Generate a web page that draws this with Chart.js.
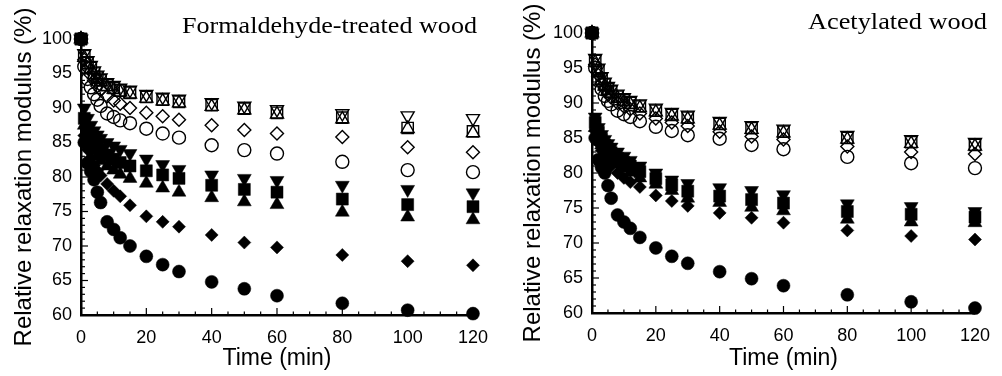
<!DOCTYPE html>
<html><head><meta charset="utf-8">
<script src="https://cdn.jsdelivr.net/npm/chart.js@4.4.0/dist/chart.umd.min.js"></script>
<style>
html,body{margin:0;padding:0;background:#fff;width:1002px;height:376px;overflow:hidden}
#c1{position:absolute;left:0;top:0}
#c2{position:absolute;left:500px;top:0}
</style></head>
<body>
<canvas id="c1" width="500" height="376"></canvas>
<canvas id="c2" width="502" height="376"></canvas>
<script>
// ---- data ----
const timesMin = [0, 1, 2, 3, 4, 5, 6, 8, 10, 12, 15, 20, 25, 30, 40, 50, 60, 80, 100, 120];
const xTicks = [0, 20, 40, 60, 80, 100, 120];
const yTicks = [60, 65, 70, 75, 80, 85, 90, 95, 100];
const panelTitles = ['Formaldehyde-treated wood', 'Acetylated wood'];
const yAxisTitle = 'Relative relaxation modulus (%)';
const xAxisTitle = 'Time (min)';

// Formaldehyde-treated wood
const fCircleFilled   = [100, 85.0, 82.0, 80.8, 79.6, 77.8, 76.3, 73.5, 72.4, 71.2, 70.0, 68.5, 67.3, 66.3, 64.8, 63.8, 62.8, 61.7, 60.7, 60.2];
const fDiamondFilled  = [100, 86.0, 84.0, 82.8, 81.7, 80.9, 80.2, 79.0, 78.0, 77.2, 75.9, 74.3, 73.5, 72.8, 71.6, 70.5, 69.8, 68.7, 67.8, 67.2];
const fTriUpFilled    = [100, 87.5, 86.0, 84.8, 83.8, 83.0, 82.4, 81.6, 81.0, 80.4, 79.8, 79.1, 78.4, 77.8, 77.0, 76.4, 76.0, 74.9, 74.2, 73.8];
const fSquareFilled   = [100, 88.5, 87.0, 86.0, 85.2, 84.5, 84.0, 83.2, 82.6, 82.1, 81.6, 80.9, 80.3, 79.8, 78.8, 78.2, 77.8, 76.8, 76.0, 75.7];
const fTriDownFilled  = [100, 90.0, 88.5, 87.5, 86.7, 86.1, 85.6, 85.0, 84.5, 84.0, 83.4, 82.6, 81.8, 81.1, 80.3, 79.8, 79.5, 78.8, 78.2, 77.7];
const fCircleOpen     = [100, 96.0, 94.2, 93.0, 92.0, 91.2, 90.3, 89.2, 88.7, 88.2, 87.8, 87.0, 86.3, 85.7, 84.6, 83.9, 83.4, 82.2, 81.0, 80.7];
const fDiamondOpen    = [100, 97.0, 95.8, 94.8, 94.0, 93.2, 92.6, 91.7, 91.1, 90.6, 90.0, 89.3, 88.8, 88.3, 87.5, 86.8, 86.3, 85.8, 84.3, 83.6];
const fTriUpOpen      = [100, 97.3, 96.3, 95.6, 94.8, 94.2, 93.8, 93.1, 92.7, 92.3, 92.0, 91.4, 91.0, 90.7, 90.2, 89.7, 89.1, 88.4, 87.0, 86.4];
const fSquareOpen     = [100, 97.5, 96.5, 95.8, 95.0, 94.4, 94.0, 93.3, 92.9, 92.5, 92.2, 91.6, 91.2, 90.9, 90.4, 89.9, 89.3, 88.6, 87.1, 86.6];
const fTriDownOpen    = [100, 97.9, 96.9, 96.2, 95.4, 94.8, 94.4, 93.7, 93.3, 92.9, 92.6, 92.0, 91.6, 91.3, 90.8, 90.3, 89.8, 89.2, 88.9, 88.5];

// Acetylated wood
const aCircleFilled   = [100, 85.0, 81.9, 80.8, 80.0, 78.2, 76.4, 74.0, 73.0, 72.1, 70.8, 69.3, 68.1, 67.1, 65.9, 64.9, 63.9, 62.6, 61.6, 60.7];
const aDiamondFilled  = [100, 86.0, 84.3, 83.2, 82.3, 81.6, 81.0, 80.0, 79.3, 78.7, 78.0, 76.8, 76.0, 75.3, 74.3, 73.6, 72.9, 71.8, 71.0, 70.5];
const aTriUpFilled    = [100, 86.5, 85.0, 84.0, 83.2, 82.6, 82.1, 81.3, 80.7, 80.1, 79.3, 78.4, 77.5, 76.4, 75.8, 75.1, 74.6, 73.4, 73.0, 72.9];
const aSquareFilled   = [100, 87.2, 85.8, 84.8, 84.0, 83.4, 82.9, 82.1, 81.5, 81.0, 80.2, 79.2, 78.3, 77.4, 76.7, 76.2, 75.7, 74.5, 74.1, 73.7];
const aTriDownFilled  = [100, 88.0, 86.5, 85.5, 84.8, 84.2, 83.7, 83.0, 82.4, 81.8, 81.0, 80.0, 79.0, 78.5, 77.9, 77.5, 76.9, 75.6, 75.2, 74.5];
const aCircleOpen     = [100, 95.0, 93.2, 92.0, 91.0, 90.3, 89.8, 88.9, 88.4, 88.0, 87.4, 86.6, 86.0, 85.4, 84.9, 84.0, 83.4, 82.3, 81.4, 80.7];
const aDiamondOpen    = [100, 95.5, 94.0, 92.8, 92.0, 91.3, 90.8, 90.0, 89.5, 89.1, 88.5, 87.8, 87.2, 86.7, 85.9, 85.2, 84.8, 83.8, 83.0, 82.7];
const aTriUpOpen      = [100, 95.8, 94.4, 93.2, 92.4, 91.8, 91.4, 90.7, 90.2, 89.8, 89.3, 88.7, 88.1, 87.7, 86.8, 86.2, 85.7, 84.8, 84.2, 83.8];
const aSquareOpen     = [100, 96.0, 94.6, 93.4, 92.6, 92.0, 91.6, 90.9, 90.4, 90.0, 89.5, 88.9, 88.3, 87.9, 87.0, 86.4, 85.9, 85.0, 84.4, 84.0];
const aTriDownOpen    = [100, 96.4, 95.0, 93.8, 93.0, 92.4, 92.0, 91.3, 90.8, 90.4, 89.9, 89.3, 88.7, 88.3, 87.4, 86.8, 86.3, 85.4, 84.8, 84.4];

// ---- styles ----
const SANS = '"Liberation Sans", Arial, sans-serif';
const SERIF = '"Liberation Serif", "Times New Roman", serif';
const markerStyles = {
  squareF:  {pointStyle:'rect', r:8.5, fill:true, rot:0},
  triDownF: {pointStyle:'triangle', r:8, fill:true, rot:180},
  triUpF:   {pointStyle:'triangle', r:8, fill:true, rot:0},
  diamondF: {pointStyle:'rectRot', r:6.5, fill:true, rot:0},
  circleF:  {pointStyle:'circle', r:6.5, fill:true, rot:0},
  squareO:  {pointStyle:'rect', r:8, fill:false, rot:0},
  triDownO: {pointStyle:'triangle', r:7.5, fill:false, rot:180},
  triUpO:   {pointStyle:'triangle', r:7.5, fill:false, rot:0},
  diamondO: {pointStyle:'rectRot', r:6.5, fill:false, rot:0},
  circleO:  {pointStyle:'circle', r:6.5, fill:false, rot:0}
};

function ds(label, arr, key) {
  const s = markerStyles[key];
  return {
    label,
    data: timesMin.map((t, i) => ({x: t, y: arr[i]})),
    showLine: false,
    pointStyle: s.pointStyle,
    pointRadius: s.r,
    pointHoverRadius: s.r,
    pointRotation: s.rot,
    pointBackgroundColor: s.fill ? '#000' : 'rgba(0,0,0,0)',
    pointBorderColor: '#000',
    pointBorderWidth: s.fill ? 0.5 : 1.4,
    clip: false
  };
}

function decorPlugin(title, titleX, titleW, titleBase) {
  return {
    id: 'decor',
    beforeDatasetsDraw(chart) {
      const ctx = chart.ctx, a = chart.chartArea;
      const xs = chart.scales.x, ys = chart.scales.y;
      ctx.save();
      ctx.strokeStyle = '#000';
      ctx.lineWidth = 1.2;
      const y0 = yTicks[0], y1 = yTicks[yTicks.length - 1];
      for (let v = y0; v <= y1; v += 1) {
        const p = ys.getPixelForValue(v);
        const L = (v % 5 === 0) ? 7 : 4;
        ctx.beginPath(); ctx.moveTo(a.left, p); ctx.lineTo(a.left + L, p); ctx.stroke();
      }
      const x0 = xTicks[0], x1 = xTicks[xTicks.length - 1];
      for (let v = x0; v <= x1; v += 5) {
        const p = xs.getPixelForValue(v);
        const L = (v % 20 === 0) ? 7 : 3.5;
        ctx.beginPath(); ctx.moveTo(p, a.bottom); ctx.lineTo(p, a.bottom - L); ctx.stroke();
      }
      ctx.restore();
    },
    afterDraw(chart) {
      const ctx = chart.ctx;
      ctx.save();
      ctx.font = '24px ' + SERIF;
      ctx.fillStyle = '#000';
      ctx.textBaseline = 'alphabetic';
      ctx.textAlign = 'left';
      const w = ctx.measureText(title).width;
      ctx.translate(titleX, titleBase);
      ctx.scale(titleW / w, 1);
      ctx.fillText(title, 0, 0);
      ctx.restore();
    }
  };
}

function makeChart(id, datasets, geo) {
  return new Chart(document.getElementById(id), {
    type: 'scatter',
    data: {datasets},
    options: {
      responsive: false,
      animation: false,
      devicePixelRatio: 1,
      layout: {padding: {left: 0, right: geo.padRight, top: geo.top, bottom: 0}},
      plugins: {legend: {display: false}, tooltip: {enabled: false}, title: {display: false}},
      scales: {
        x: {
          type: 'linear', min: xTicks[0], max: xTicks[xTicks.length - 1],
          afterBuildTicks: s => { s.ticks = xTicks.map(v => ({value: v})); },
          afterFit: s => { s.height = geo.xAxisH; },
          grid: {display: false, drawTicks: false},
          border: {display: true, color: '#000', width: 2.5},
          ticks: {color: '#000', font: {family: SANS, size: 18}, padding: 12, maxRotation: 0, autoSkip: false},
          title: {display: true, text: xAxisTitle, color: '#000', font: {family: SANS, size: 23}, padding: {top: 0, bottom: 4}}
        },
        y: {
          type: 'linear', min: yTicks[0], max: yTicks[yTicks.length - 1],
          afterBuildTicks: s => { s.ticks = yTicks.map(v => ({value: v})); },
          afterFit: s => { s.width = geo.yAxisW; },
          grid: {display: false, drawTicks: false},
          border: {display: true, color: '#000', width: 2.5},
          ticks: {color: '#000', font: {family: SANS, size: 18}, padding: 9, autoSkip: false},
          title: {display: true, text: yAxisTitle, color: '#000', font: {family: SANS, size: 24}, padding: {top: geo.yTitlePad, bottom: 0}}
        }
      }
    },
    plugins: [decorPlugin(geo.title, geo.titleX, geo.titleW, geo.titleBase)]
  });
}

makeChart('c1', [
  ds('F square', fSquareFilled, 'squareF'),
  ds('F tri down', fTriDownFilled, 'triDownF'),
  ds('F tri up', fTriUpFilled, 'triUpF'),
  ds('F diamond', fDiamondFilled, 'diamondF'),
  ds('F circle', fCircleFilled, 'circleF'),
  ds('O square', fSquareOpen, 'squareO'),
  ds('O tri down', fTriDownOpen, 'triDownO'),
  ds('O tri up', fTriUpOpen, 'triUpO'),
  ds('O diamond', fDiamondOpen, 'diamondO'),
  ds('O circle', fCircleOpen, 'circleO')
], {padRight: 25, top: 39, xAxisH: 61, yAxisW: 81, yTitlePad: 10,
    title: panelTitles[0], titleX: 182, titleW: 295, titleBase: 33});

makeChart('c2', [
  ds('F square', aSquareFilled, 'squareF'),
  ds('F tri down', aTriDownFilled, 'triDownF'),
  ds('F tri up', aTriUpFilled, 'triUpF'),
  ds('F diamond', aDiamondFilled, 'diamondF'),
  ds('F circle', aCircleFilled, 'circleF'),
  ds('O square', aSquareOpen, 'squareO'),
  ds('O tri down', aTriDownOpen, 'triDownO'),
  ds('O tri up', aTriUpOpen, 'triUpO'),
  ds('O diamond', aDiamondOpen, 'diamondO'),
  ds('O circle', aCircleOpen, 'circleO')
], {padRight: 17, top: 33, xAxisH: 63, yAxisW: 92, yTitlePad: 18.5,
    title: panelTitles[1], titleX: 308, titleW: 179, titleBase: 28.5});
</script>
</body></html>
